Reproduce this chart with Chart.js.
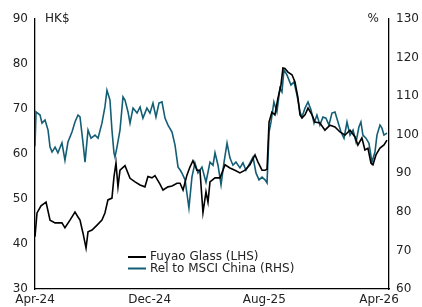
<!DOCTYPE html>
<html>
<head>
<meta charset="utf-8">
<script src="https://cdn.jsdelivr.net/npm/chart.js@4/dist/chart.umd.min.js"></script>
<style>
  html, body { margin: 0; padding: 0; background: #fff; }
  #wrap { width: 422px; height: 307px; }
</style>
</head>
<body>
<div id="wrap"><canvas id="chart" width="422" height="307"></canvas></div>
<script>
// months since Apr-24 / values
const fuyaoMonths = [0.00,0.14,0.42,0.77,1.05,1.40,1.88,2.09,2.44,2.79,3.00,3.14,3.35,3.56,3.70,3.98,4.33,4.67,4.88,5.09,5.37,5.51,5.65,5.79,5.93,6.28,6.63,6.98,7.33,7.67,7.88,8.16,8.37,8.72,8.93,9.28,9.56,9.91,10.12,10.33,10.60,10.81,11.02,11.30,11.51,11.72,11.93,12.07,12.21,12.56,12.91,13.26,13.60,13.95,14.30,14.65,15.00,15.35,15.56,15.84,16.05,16.19,16.33,16.53,16.74,16.95,17.16,17.30,17.44,17.65,17.93,18.14,18.35,18.49,18.63,18.84,19.05,19.33,19.53,19.88,20.23,20.58,20.93,21.28,21.63,21.98,22.33,22.53,22.81,23.02,23.23,23.44,23.58,23.79,24.07,24.35,24.56];
const fuyaoPrice = [41.6,46.9,48.5,49.3,45.3,44.7,44.7,43.6,45.3,47.1,46.0,45.3,42.4,39.1,42.7,43.1,44.2,45.3,46.9,49.8,50.2,54.9,58.0,52.7,56.4,57.4,54.6,53.8,53.1,52.7,55.0,54.7,55.2,53.3,52.0,52.7,52.9,53.5,53.5,52.0,55.3,57.1,58.5,56.4,56.4,47.0,51.6,49.3,53.8,54.7,54.7,57.6,56.9,56.4,55.8,56.4,57.6,59.8,58.2,56.4,56.4,56.6,67.1,69.3,68.7,72.4,75.3,79.1,79.0,78.2,77.6,76.0,72.4,68.7,68.0,68.7,70.2,68.7,67.1,66.9,65.3,66.4,66.0,64.9,64.2,65.3,63.8,62.0,63.6,60.9,61.3,58.0,57.6,59.8,61.3,62.0,63.1];

const relMonths = [0.00,0.07,0.35,0.49,0.70,0.91,1.05,1.19,1.40,1.60,1.88,2.09,2.30,2.58,2.79,3.00,3.14,3.35,3.49,3.70,3.91,4.19,4.40,4.67,4.88,5.02,5.23,5.37,5.51,5.58,5.72,5.93,6.14,6.28,6.49,6.63,6.84,7.12,7.33,7.53,7.81,8.02,8.23,8.44,8.65,8.86,9.07,9.28,9.56,9.77,9.98,10.12,10.26,10.47,10.74,10.95,11.16,11.37,11.65,11.93,12.21,12.42,12.56,12.77,12.98,13.19,13.40,13.60,13.81,14.02,14.30,14.51,14.72,15.00,15.21,15.42,15.63,15.84,16.05,16.19,16.33,16.47,16.67,16.88,17.09,17.23,17.37,17.58,17.86,18.07,18.28,18.49,18.63,18.84,19.05,19.26,19.47,19.67,19.88,20.09,20.30,20.51,20.72,20.93,21.14,21.35,21.56,21.77,21.98,22.19,22.40,22.60,22.74,22.88,23.09,23.30,23.51,23.72,23.86,24.07,24.21,24.35,24.56];
const relMsci = [97.0,105.9,105.1,103.0,103.8,101.2,96.8,95.5,96.8,95.3,97.9,93.4,98.1,100.7,103.3,105.1,104.6,97.9,92.9,101.2,99.1,99.9,99.1,103.0,107.2,111.5,109.0,101.2,95.3,94.2,96.8,101.2,109.8,109.0,105.9,103.0,106.9,105.6,107.2,104.3,106.9,105.6,108.2,104.6,108.2,108.5,104.3,102.5,100.7,97.3,91.6,90.9,90.0,88.3,81.0,89.0,92.7,90.1,91.6,87.7,92.9,92.1,95.3,92.1,87.0,92.9,97.8,94.0,92.1,92.9,91.4,92.7,90.8,92.7,94.2,90.1,88.3,89.0,88.3,87.5,100.7,103.3,108.5,105.9,112.1,111.1,116.8,115.5,112.9,113.7,110.3,105.9,104.6,106.9,108.5,106.4,103.0,105.1,102.5,104.6,104.3,102.5,105.6,105.9,103.3,100.7,99.1,103.3,99.9,101.2,98.1,102.0,103.3,99.9,99.1,97.8,92.9,95.5,99.9,102.5,101.7,99.9,100.4];

const tickMonths = [0, 8, 16, 24];
const tickLabels = ['Apr-24', 'Dec-24', 'Aug-25', 'Apr-26'];
const seriesNames = ['Fuyao Glass (LHS)', 'Rel to MSCI China (RHS)'];
const seriesColors = ['#000000', '#135e74'];

const FONT = 'DejaVu Sans, Verdana, sans-serif';

function toPoints(xs, ys) {
    return xs.map((x, i) => ({ x: x, y: ys[i] }));
}

// unit labels + in-plot legend
const extrasPlugin = {
    id: 'extras',
    afterDraw(chart) {
        const ctx = chart.ctx;
        const area = chart.chartArea;
        ctx.save();
        ctx.fillStyle = '#222';
        ctx.font = '12px ' + FONT;
        ctx.textBaseline = 'middle';
        ctx.textAlign = 'left';
        ctx.fillText('HK$', area.left + 10, area.top);
        ctx.textAlign = 'right';
        ctx.fillText('%', area.right - 10, area.top);

        ctx.textAlign = 'left';
        chart.data.datasets.forEach((ds, i) => {
            const y = area.bottom - 32 + i * 11.5;
            ctx.strokeStyle = ds.borderColor;
            ctx.lineWidth = 2;
            ctx.beginPath();
            ctx.moveTo(area.left + 93, y);
            ctx.lineTo(area.left + 111, y);
            ctx.stroke();
            ctx.fillStyle = '#222';
            ctx.fillText(ds.label, area.left + 115, y);
        });
        ctx.restore();
    }
};

new Chart(document.getElementById('chart'), {
    type: 'line',
    data: {
        datasets: [
            { label: seriesNames[0], data: toPoints(fuyaoMonths, fuyaoPrice), yAxisID: 'yL',
              borderColor: seriesColors[0], borderWidth: 1.6, pointRadius: 0, tension: 0 },
            { label: seriesNames[1], data: toPoints(relMonths, relMsci), yAxisID: 'yR',
              borderColor: seriesColors[1], borderWidth: 1.6, pointRadius: 0, tension: 0 }
        ]
    },
    options: {
        responsive: false,
        animation: false,
        layout: { padding: { top: 19, left: 0, right: 0, bottom: 0 } },
        plugins: { legend: { display: false }, tooltip: { enabled: false } },
        scales: {
            x: {
                type: 'linear', min: 0, max: 24.7,
                afterBuildTicks: axis => { axis.ticks = tickMonths.map(v => ({ value: v })); },
                ticks: { callback: (v) => tickLabels[tickMonths.indexOf(v)], maxRotation: 0,
                         font: { family: FONT, size: 12 }, color: '#222', padding: 0 },
                grid: { display: false, drawTicks: true, tickLength: 4, tickColor: '#000' },
                border: { color: '#000', width: 1.3 },
                afterFit: axis => { axis.height = 18; }
            },
            yL: {
                position: 'left', min: 30, max: 90,
                ticks: { stepSize: 10, font: { family: FONT, size: 12 }, color: '#222', padding: 2 },
                grid: { display: false, drawTicks: true, tickLength: 5, tickColor: '#000' },
                border: { color: '#000', width: 1.3 },
                afterFit: axis => { axis.width = 35; }
            },
            yR: {
                position: 'right', min: 60, max: 130,
                ticks: { stepSize: 10, font: { family: FONT, size: 12 }, color: '#222', padding: 2 },
                grid: { display: false, drawTicks: true, tickLength: 5, tickColor: '#000' },
                border: { color: '#000', width: 1.3 },
                afterFit: axis => { axis.width = 33; }
            }
        }
    },
    plugins: [extrasPlugin]
});
</script>
</body>
</html>
